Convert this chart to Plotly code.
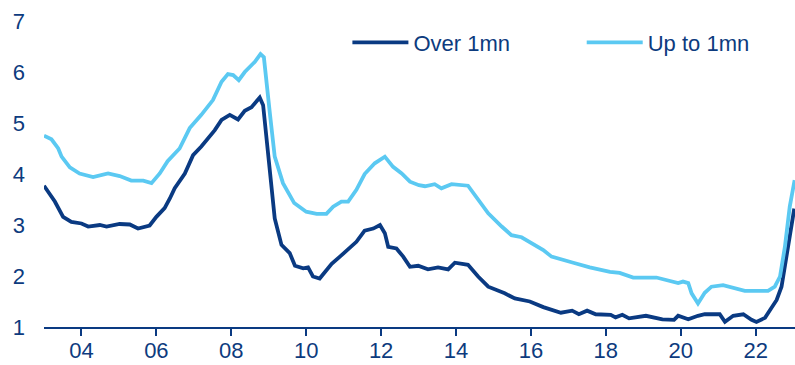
import plotly.graph_objects as go

# Over 1mn: time (decimal years) and value
over_t = [2003.00, 2003.15, 2003.29, 2003.51, 2003.73, 2004.00, 2004.18, 2004.49, 2004.67,
          2005.02, 2005.29, 2005.51, 2005.82, 2006.00, 2006.22, 2006.36, 2006.49, 2006.76,
          2006.98, 2007.20, 2007.38, 2007.56, 2007.74, 2007.96, 2008.18, 2008.36, 2008.54,
          2008.76, 2008.85, 2008.98, 2009.16, 2009.34, 2009.56, 2009.70, 2009.92, 2010.05,
          2010.18, 2010.36, 2010.68, 2010.90, 2011.16, 2011.34, 2011.56, 2011.79, 2011.97,
          2012.10, 2012.19, 2012.41, 2012.59, 2012.77, 2012.99, 2013.25, 2013.52, 2013.79,
          2013.97, 2014.32, 2014.59, 2014.86, 2015.30, 2015.57, 2015.97, 2016.33, 2016.80,
          2017.10, 2017.28, 2017.50, 2017.73, 2018.13, 2018.26, 2018.44, 2018.62, 2019.07,
          2019.51, 2019.82, 2019.93, 2020.20, 2020.46, 2020.64, 2021.04, 2021.18, 2021.31,
          2021.40, 2021.67, 2021.89, 2022.02, 2022.25, 2022.38, 2022.56, 2022.69, 2022.80,
          2022.91, 2023.03]
over_v = [3.77, 3.60, 3.46, 3.16, 3.06, 3.03, 2.97, 3.00, 2.97,
          3.02, 3.01, 2.93, 2.99, 3.16, 3.33, 3.52, 3.72, 4.01,
          4.37, 4.54, 4.70, 4.86, 5.06, 5.16, 5.07, 5.24, 5.31,
          5.50, 5.35, 4.41, 3.13, 2.61, 2.45, 2.20, 2.15, 2.17,
          1.99, 1.95, 2.24, 2.38, 2.54, 2.67, 2.89, 2.93, 3.00,
          2.84, 2.57, 2.54, 2.38, 2.18, 2.20, 2.13, 2.17, 2.13,
          2.26, 2.22, 1.99, 1.79, 1.66, 1.56, 1.50, 1.39, 1.28,
          1.32, 1.25, 1.32, 1.25, 1.24, 1.19, 1.24, 1.17, 1.22,
          1.15, 1.14, 1.22, 1.15, 1.22, 1.25, 1.25, 1.10, 1.17,
          1.22, 1.25, 1.14, 1.10, 1.18, 1.33, 1.53, 1.79, 2.31,
          2.84, 3.32]

# Up to 1mn: time (decimal years) and value
upto_t = [2003.00, 2003.20, 2003.38, 2003.47, 2003.69, 2003.95, 2004.31, 2004.71, 2005.02,
          2005.33, 2005.65, 2005.87, 2006.09, 2006.30, 2006.62, 2006.89, 2007.20, 2007.51,
          2007.74, 2007.91, 2008.05, 2008.20, 2008.36, 2008.63, 2008.78, 2008.87, 2009.03,
          2009.16, 2009.38, 2009.68, 2010.00, 2010.28, 2010.54, 2010.72, 2010.94, 2011.12,
          2011.34, 2011.56, 2011.83, 2012.10, 2012.32, 2012.55, 2012.77, 2013.01, 2013.17,
          2013.43, 2013.61, 2013.88, 2014.32, 2014.55, 2014.86, 2015.22, 2015.48, 2015.75,
          2016.02, 2016.33, 2016.55, 2016.86, 2017.13, 2017.57, 2018.11, 2018.37, 2018.73,
          2019.35, 2019.66, 2019.93, 2020.06, 2020.20, 2020.29, 2020.46, 2020.64, 2020.82,
          2021.13, 2021.44, 2021.71, 2022.33, 2022.51, 2022.65, 2022.78, 2022.91, 2023.04]
upto_v = [4.75, 4.68, 4.50, 4.34, 4.13, 4.01, 3.94, 4.01, 3.96,
          3.87, 3.87, 3.82, 4.01, 4.25, 4.50, 4.90, 5.16, 5.45,
          5.81, 5.96, 5.94, 5.84, 6.00, 6.20, 6.35, 6.29, 5.19,
          4.34, 3.82, 3.43, 3.26, 3.22, 3.22, 3.36, 3.46, 3.46,
          3.69, 4.00, 4.21, 4.34, 4.14, 4.01, 3.85, 3.78, 3.76,
          3.80, 3.72, 3.80, 3.77, 3.55, 3.23, 2.97, 2.80, 2.76,
          2.64, 2.51, 2.38, 2.31, 2.26, 2.17, 2.08, 2.06, 1.97,
          1.97, 1.91, 1.86, 1.89, 1.86, 1.66, 1.46, 1.67, 1.79,
          1.82, 1.76, 1.71, 1.71, 1.79, 1.99, 2.57, 3.36, 3.88]

tick_years = list(range(2004, 2023, 2))
tick_labels = [f"{y % 100:02d}" for y in tick_years]

NAVY = "#0a3a82"
SKY = "#5bc9f2"
TEXT = "#0d3b7e"
FONT = "Liberation Sans, Arial, sans-serif"
SIZE = 22

fig = go.Figure()
fig.add_trace(go.Scatter(x=over_t, y=over_v, mode="lines", name="Over 1mn",
                         line=dict(color=NAVY, width=3.8), legend="legend"))
fig.add_trace(go.Scatter(x=upto_t, y=upto_v, mode="lines", name="Up to 1mn",
                         line=dict(color=SKY, width=3.8), legend="legend2"))

legend_common = dict(orientation="h", yanchor="top", y=0.998, xanchor="left",
                     bgcolor="rgba(0,0,0,0)", itemwidth=56,
                     font=dict(family=FONT, size=SIZE, color=TEXT))

fig.update_layout(
    width=795, height=365,
    margin=dict(l=44, r=0, t=21, b=38),
    paper_bgcolor="white", plot_bgcolor="white",
    font=dict(family=FONT, size=SIZE, color=TEXT),
    showlegend=True,
    legend=dict(x=0.404, **legend_common),
    legend2=dict(x=0.716, **legend_common),
    xaxis=dict(range=[2003.0, 2023.05], tickvals=tick_years, ticktext=tick_labels,
               showgrid=False, zeroline=False, showline=True, linecolor=NAVY, linewidth=2,
               ticks="outside", ticklen=7, tickwidth=2, tickcolor=NAVY,
               ticklabelstandoff=-4,
               tickfont=dict(family=FONT, size=SIZE, color=TEXT)),
    yaxis=dict(range=[1, 7], tickvals=[1, 2, 3, 4, 5, 6, 7], showgrid=False,
               zeroline=False, showline=False, ticks="", ticklabelstandoff=18,
               tickfont=dict(family=FONT, size=SIZE, color=TEXT)),
)

fig.write_html("out.html")
